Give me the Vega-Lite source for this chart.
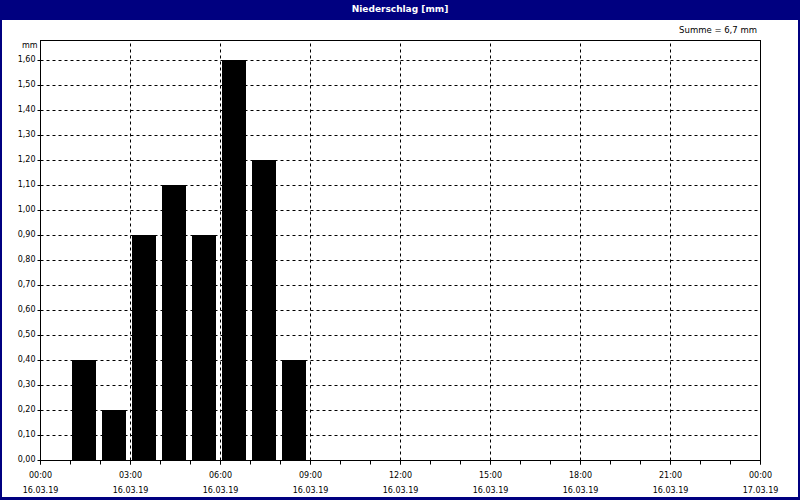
{
  "$schema": "https://vega.github.io/schema/vega-lite/v6.json",
  "width": 796,
  "height": 477,
  "autosize": {"type": "none"},
  "padding": {"left": 2, "top": 20, "right": 2, "bottom": 3},
  "background": "#000080",
  "config": {
    "view": {"fill": "white", "stroke": null},
    "font": "DejaVu Sans",
    "axis": {
      "labelFont": "DejaVu Sans",
      "labelFontSize": 8,
      "labelColor": "#000000",
      "domainColor": "#000000",
      "tickColor": "#000000",
      "gridColor": "#000000",
      "gridDash": [3, 3],
      "gridOpacity": 1,
      "titleFont": "DejaVu Sans",
      "titleColor": "#000000"
    }
  },
  "title": {
    "text": "Niederschlag [mm]",
    "color": "white",
    "font": "DejaVu Sans",
    "fontSize": 9,
    "fontWeight": "bold",
    "anchor": "middle",
    "frame": "group",
    "baseline": "bottom",
    "offset": 0,
    "dy": 3
  },
  "data": {
    "values": [
      {"start": "2019-03-16T01:00", "end": "2019-03-16T02:00", "mm": 0.4},
      {"start": "2019-03-16T02:00", "end": "2019-03-16T03:00", "mm": 0.2},
      {"start": "2019-03-16T03:00", "end": "2019-03-16T04:00", "mm": 0.9},
      {"start": "2019-03-16T04:00", "end": "2019-03-16T05:00", "mm": 1.1},
      {"start": "2019-03-16T05:00", "end": "2019-03-16T06:00", "mm": 0.9},
      {"start": "2019-03-16T06:00", "end": "2019-03-16T07:00", "mm": 1.6},
      {"start": "2019-03-16T07:00", "end": "2019-03-16T08:00", "mm": 1.2},
      {"start": "2019-03-16T08:00", "end": "2019-03-16T09:00", "mm": 0.4}
    ]
  },
  "layer": [
    {
      "mark": {"type": "rect", "filled": false, "stroke": "#000000", "strokeWidth": 1, "xOffset": 0.5, "x2Offset": 0.5, "yOffset": 0.5, "y2Offset": 0.5},
      "encoding": {
        "x": {
          "datum": {"year": 2019, "month": 3, "date": 16},
          "type": "temporal",
          "scale": {
            "domain": [{"year": 2019, "month": 3, "date": 16}, {"year": 2019, "month": 3, "date": 17}],
            "range": [38, 758],
            "nice": false
          },
          "axis": {
            "orient": "top",
            "offset": -20,
            "title": null,
            "labels": false,
            "ticks": false,
            "domain": true,
            "grid": true,
            "values": [
              {"year": 2019, "month": 3, "date": 16, "hours": 3},
              {"year": 2019, "month": 3, "date": 16, "hours": 6},
              {"year": 2019, "month": 3, "date": 16, "hours": 9},
              {"year": 2019, "month": 3, "date": 16, "hours": 12},
              {"year": 2019, "month": 3, "date": 16, "hours": 15},
              {"year": 2019, "month": 3, "date": 16, "hours": 18},
              {"year": 2019, "month": 3, "date": 16, "hours": 21}
            ]
          }
        },
        "x2": {"datum": {"year": 2019, "month": 3, "date": 17}},
        "y": {
          "datum": 0,
          "type": "quantitative",
          "scale": {"domain": [0, 1.68], "range": [440, 20], "nice": false, "zero": true},
          "axis": {
            "orient": "left",
            "offset": -38,
            "values": [0, 0.1, 0.2, 0.3, 0.4, 0.5, 0.6, 0.7, 0.8, 0.9, 1.0, 1.1, 1.2, 1.3, 1.4, 1.5, 1.6],
            "labelExpr": "replace(format(datum.value, '.2f'), '.', ',')",
            "tickSize": 3,
            "labelPadding": 2,
            "labelOffset": -1,
            "grid": true,
            "title": "mm",
            "titleAngle": 0,
            "titleAlign": "right",
            "titleBaseline": "middle",
            "titleFontSize": 8,
            "titleFontWeight": "normal",
            "titleX": -3,
            "titleY": 25
          }
        },
        "y2": {"datum": 1.68}
      }
    },
    {
      "mark": {"type": "bar", "fill": "#000000", "xOffset": 2, "x2Offset": -4},
      "encoding": {
        "x": {
          "field": "start",
          "type": "temporal",
          "axis": {
            "orient": "bottom",
            "offset": -37,
            "title": null,
            "grid": false,
            "values": [
              {"year": 2019, "month": 3, "date": 16, "hours": 0},
              {"year": 2019, "month": 3, "date": 16, "hours": 3},
              {"year": 2019, "month": 3, "date": 16, "hours": 6},
              {"year": 2019, "month": 3, "date": 16, "hours": 9},
              {"year": 2019, "month": 3, "date": 16, "hours": 12},
              {"year": 2019, "month": 3, "date": 16, "hours": 15},
              {"year": 2019, "month": 3, "date": 16, "hours": 18},
              {"year": 2019, "month": 3, "date": 16, "hours": 21},
              {"year": 2019, "month": 3, "date": 17, "hours": 0}
            ],
            "tickSize": 4,
            "labelPadding": 7,
            "labelLineHeight": 15,
            "labelBaseline": "top",
            "labelOverlap": false,
            "labelFlush": false,
            "labelBound": false,
            "labelExpr": "[timeFormat(datum.value, '%H:%M'), timeFormat(datum.value, '%d.%m.%y')]"
          }
        },
        "x2": {"field": "end"},
        "y": {"field": "mm", "type": "quantitative", "axis": null},
        "y2": {"datum": 0}
      }
    },
    {
      "transform": [
        {"aggregate": [{"op": "sum", "field": "mm", "as": "total"}]},
        {"calculate": "'Summe = ' + replace(format(datum.total, '.1f'), '.', ',') + ' mm'", "as": "label"}
      ],
      "mark": {"type": "text", "align": "right", "baseline": "middle", "dx": -3, "dy": -10, "fontSize": 8.5, "font": "DejaVu Sans", "color": "#000000"},
      "encoding": {
        "x": {
          "datum": {"year": 2019, "month": 3, "date": 17},
          "type": "temporal",
          "axis": {
            "orient": "bottom",
            "offset": -37,
            "title": null,
            "labels": false,
            "grid": false,
            "domain": false,
            "tickSize": 4,
            "values": [
              {"year": 2019, "month": 3, "date": 16, "hours": 0},
              {"year": 2019, "month": 3, "date": 16, "hours": 1},
              {"year": 2019, "month": 3, "date": 16, "hours": 2},
              {"year": 2019, "month": 3, "date": 16, "hours": 3},
              {"year": 2019, "month": 3, "date": 16, "hours": 4},
              {"year": 2019, "month": 3, "date": 16, "hours": 5},
              {"year": 2019, "month": 3, "date": 16, "hours": 6},
              {"year": 2019, "month": 3, "date": 16, "hours": 7},
              {"year": 2019, "month": 3, "date": 16, "hours": 8},
              {"year": 2019, "month": 3, "date": 16, "hours": 9},
              {"year": 2019, "month": 3, "date": 16, "hours": 10},
              {"year": 2019, "month": 3, "date": 16, "hours": 11},
              {"year": 2019, "month": 3, "date": 16, "hours": 12},
              {"year": 2019, "month": 3, "date": 16, "hours": 13},
              {"year": 2019, "month": 3, "date": 16, "hours": 14},
              {"year": 2019, "month": 3, "date": 16, "hours": 15},
              {"year": 2019, "month": 3, "date": 16, "hours": 16},
              {"year": 2019, "month": 3, "date": 16, "hours": 17},
              {"year": 2019, "month": 3, "date": 16, "hours": 18},
              {"year": 2019, "month": 3, "date": 16, "hours": 19},
              {"year": 2019, "month": 3, "date": 16, "hours": 20},
              {"year": 2019, "month": 3, "date": 16, "hours": 21},
              {"year": 2019, "month": 3, "date": 16, "hours": 22},
              {"year": 2019, "month": 3, "date": 16, "hours": 23},
              {"year": 2019, "month": 3, "date": 17, "hours": 0}
            ]
          }
        },
        "y": {"datum": 1.68, "type": "quantitative", "axis": null},
        "text": {"field": "label"}
      }
    }
  ],
  "resolve": {"axis": {"x": "independent", "y": "independent"}}
}
